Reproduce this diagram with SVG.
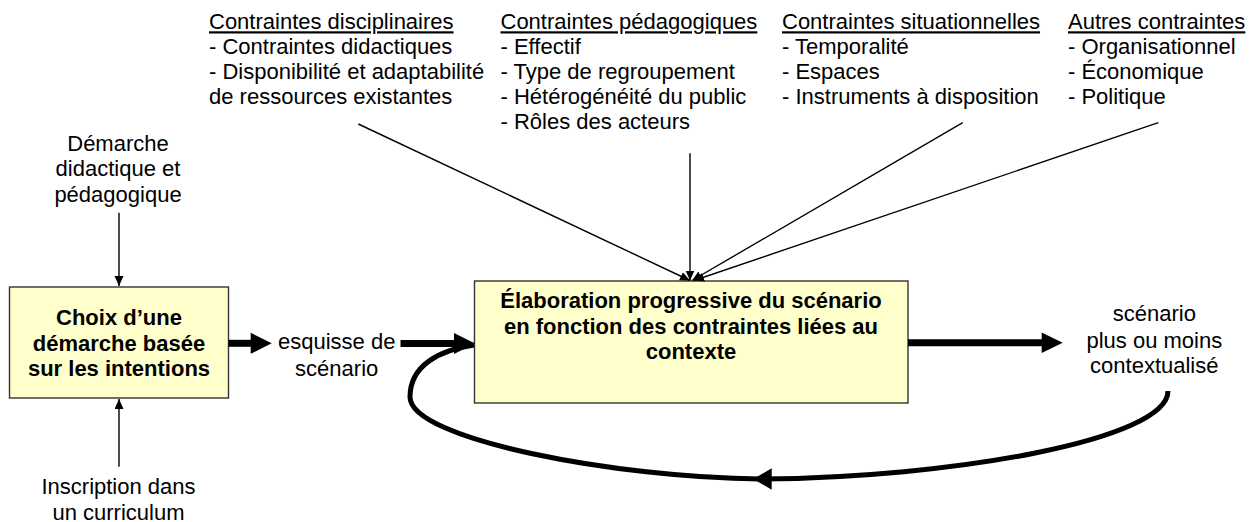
<svg xmlns="http://www.w3.org/2000/svg" width="1257" height="522" viewBox="0 0 1257 522">
<defs>
<style>
text{font-family:"Liberation Sans",Arial,sans-serif;font-size:22px;fill:#000}
.b{font-weight:bold}
.m{text-anchor:middle}
.u{text-decoration:underline}
.box{fill:#FFFFCC;stroke:#333;stroke-width:1.4}
.thin{stroke:#000;stroke-width:1.4;fill:none}
.thick{stroke:#000;stroke-width:7;fill:none}
.loop{stroke:#000;stroke-width:5;fill:none}
.head{fill:#000}
</style>
<marker id="ah" markerUnits="userSpaceOnUse" markerWidth="11" markerHeight="10" refX="10" refY="4.5" orient="auto">
<path d="M0,0 L10,4.5 L0,9 Z" fill="#000"/>
</marker>
</defs>
<rect width="1257" height="522" fill="#fff"/>

<g id="c-disciplinaires">
<text x="209" y="29.3" class="u">Contraintes disciplinaires</text>
<text x="209" y="54.3">- Contraintes didactiques</text>
<text x="209" y="79.3">- Disponibilité et adaptabilité</text>
<text x="209" y="104.3">de ressources existantes</text>
</g>
<g id="c-pedagogiques">
<text x="500.5" y="29.3" class="u">Contraintes pédagogiques</text>
<text x="500.5" y="54.3">- Effectif</text>
<text x="500.5" y="79.3">- Type de regroupement</text>
<text x="500.5" y="104.3">- Hétérogénéité du public</text>
<text x="500.5" y="129.3">- Rôles des acteurs</text>
</g>
<g id="c-situationnelles">
<text x="782" y="29.3" class="u">Contraintes situationnelles</text>
<text x="782" y="54.3">- Temporalité</text>
<text x="782" y="79.3">- Espaces</text>
<text x="782" y="104.3">- Instruments à disposition</text>
</g>
<g id="c-autres">
<text x="1068" y="29.3" class="u">Autres contraintes</text>
<text x="1068" y="54.3">- Organisationnel</text>
<text x="1068" y="79.3">- Économique</text>
<text x="1068" y="104.3">- Politique</text>
</g>

<g id="demarche">
<text x="118" y="150.5" class="m">Démarche</text>
<text x="118" y="176" class="m">didactique et</text>
<text x="118" y="201.5" class="m">pédagogique</text>
</g>
<g id="inscription">
<text x="118.5" y="494" class="m">Inscription dans</text>
<text x="118.5" y="519.5" class="m">un curriculum</text>
</g>

<g id="choix">
<rect x="9.5" y="287" width="219" height="111" class="box"/>
<text x="119" y="325" class="m b">Choix d’une</text>
<text x="119" y="350.5" class="m b">démarche basée</text>
<text x="119" y="376" class="m b">sur les intentions</text>
</g>

<g id="esquisse">
<text x="336.7" y="349.3" class="m">esquisse de</text>
<text x="336.7" y="375.5" class="m">scénario</text>
</g>

<g id="elaboration">
<rect x="474.5" y="281" width="433.5" height="122" class="box"/>
<text x="691" y="308.3" class="m b">Élaboration progressive du scénario</text>
<text x="691" y="333.8" class="m b">en fonction des contraintes liées au</text>
<text x="691" y="359.3" class="m b">contexte</text>
</g>

<g id="resultat">
<text x="1154.3" y="320.7" class="m">scénario</text>
<text x="1154.3" y="347.5" class="m">plus ou moins</text>
<text x="1154.3" y="373.3" class="m">contextualisé</text>
</g>

<g id="connectors">
<line x1="119" y1="212.7" x2="119" y2="286" class="thin" marker-end="url(#ah)"/>
<line x1="119" y1="466.7" x2="119" y2="399" class="thin" marker-end="url(#ah)"/>
<line x1="358.3" y1="124" x2="690" y2="280.5" class="thin" marker-end="url(#ah)"/>
<line x1="690" y1="153.3" x2="690" y2="280.5" class="thin" marker-end="url(#ah)"/>
<line x1="962.7" y1="122.7" x2="692" y2="280.5" class="thin" marker-end="url(#ah)"/>
<line x1="1158.3" y1="122.7" x2="694" y2="280.5" class="thin" marker-end="url(#ah)"/>

<line x1="228.5" y1="343.3" x2="253" y2="343.3" class="thick"/>
<polygon points="250.7,332.8 271.7,343.3 250.7,353.8" class="head"/>
<line x1="400.5" y1="343.5" x2="456" y2="343.5" class="thick"/>
<polygon points="454,333 475,343.5 454,354" class="head"/>
<line x1="908" y1="342.7" x2="1044" y2="342.7" class="thick"/>
<polygon points="1041.7,332.4 1062.7,342.7 1041.7,353" class="head"/>

<path d="M1168,391 C1168,440 950,478 760,479 C620,478 410,440 410,397 C410,365 440,350 474,345" class="loop"/>
<polygon points="771.7,468.2 753.3,479 771.7,489.8" class="head"/>
</g>
</svg>
